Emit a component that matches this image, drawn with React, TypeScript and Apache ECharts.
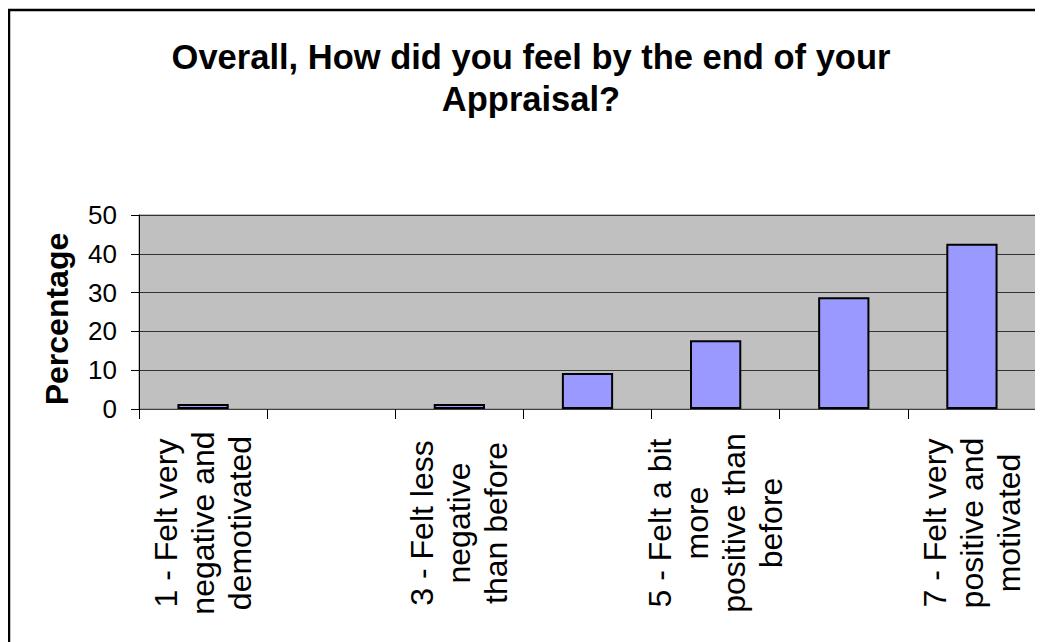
import React, { useEffect, useRef } from "react";
import * as echarts from "echarts";

const titleLines = ["Overall, How did you feel by the end of your", "Appraisal?"];
const yAxisName = "Percentage";
const categories = [
  "1 - Felt very\nnegative and\ndemotivated",
  "2",
  "3 - Felt less\nnegative\nthan before",
  "4",
  "5 - Felt a bit\nmore\npositive than\nbefore",
  "6",
  "7 - Felt very\npositive and\nmotivated",
];
const unlabelled = ["2", "4", "6"];
const percentages = [1.3, 0, 1.3, 9.3, 17.7, 28.8, 42.6];
const yTicks = { min: 0, max: 50, interval: 10 };

const FONT = "'Liberation Sans', Arial, sans-serif";

export default function App() {
  const ref = useRef<HTMLDivElement>(null);
  useEffect(() => {
    document.body.style.overflow = "hidden";
    const chart = echarts.init(ref.current!, null, { renderer: "svg" });
    chart.setOption({
      animation: false,
      backgroundColor: "#ffffff",
      title: {
        text: titleLines.join("\n"),
        left: 518,
        top: 23,
        textAlign: "center",
        textStyle: {
          fontFamily: FONT,
          fontWeight: "bold",
          fontSize: 34.5,
          lineHeight: 42,
          color: "#000",
        },
      },
      graphic: [
        {
          type: "rect",
          shape: { x: 1, y: 2, width: 1200, height: 1000 },
          style: { fill: "none", stroke: "#000", lineWidth: 2.5 },
          silent: true,
        },
      ],
      grid: {
        left: 131,
        top: 207,
        width: 897,
        height: 194,
        show: true,
        backgroundColor: "#c0c0c0",
        borderColor: "#808080",
        borderWidth: 1,
        containLabel: false,
      },
      xAxis: {
        type: "category",
        data: categories,
        axisLine: { show: true, lineStyle: { color: "#404040", width: 1 } },
        axisTick: { show: true, length: 10, lineStyle: { color: "#000" } },
        axisLabel: {
          interval: 0,
          rotate: 90,
          align: "center",
          verticalAlign: "middle",
          margin: 114,
          fontFamily: FONT,
          fontSize: 32,
          lineHeight: 37,
          color: "#000",
          formatter: (v: string) => (unlabelled.includes(v) ? "" : v),
        },
        splitLine: { show: false },
      },
      yAxis: {
        type: "value",
        min: yTicks.min,
        max: yTicks.max,
        interval: yTicks.interval,
        name: yAxisName,
        nameLocation: "middle",
        nameGap: 66,
        nameTextStyle: {
          fontFamily: FONT,
          fontWeight: "bold",
          fontSize: 32,
          color: "#000",
          padding: [0, 14, 0, 0],
        },
        axisLine: { show: true, lineStyle: { color: "#000", width: 1 } },
        axisTick: { show: true, length: 8, lineStyle: { color: "#000" } },
        axisLabel: {
          margin: 22,
          fontFamily: FONT,
          fontSize: 26,
          color: "#000",
        },
        splitLine: { show: true, lineStyle: { color: "#333", width: 1 } },
      },
      series: [
        {
          type: "bar",
          data: percentages.map((v) =>
            v === 0 ? { value: v, itemStyle: { borderWidth: 0 } } : v
          ),
          barWidth: "40%",
          itemStyle: { color: "#9999ff", borderColor: "#000", borderWidth: 2 },
        },
      ],
    });
    return () => chart.dispose();
  }, []);
  return <div ref={ref} style={{ width: 1035, height: 634 }} />;
}
